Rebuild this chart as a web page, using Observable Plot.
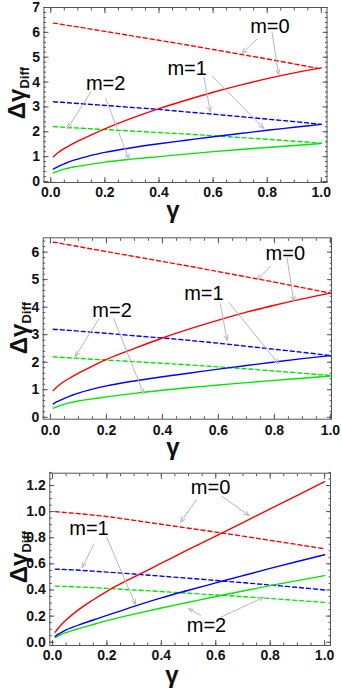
<!DOCTYPE html>
<html><head><meta charset="utf-8">
<script src="https://cdn.jsdelivr.net/npm/d3@7"></script>
<script src="https://cdn.jsdelivr.net/npm/@observablehq/plot@0.6"></script>
<style>
body{margin:0;background:#fff;width:342px;overflow:hidden}
svg{display:block}
</style></head><body>
<div id="chart"></div>
<script>
// ---- data ----
const gammaValues = [0.01, 0.02, 0.035, 0.05, 0.075, 0.1, 0.15, 0.2, 0.3, 0.4, 0.5, 0.6, 0.7, 0.8, 0.9, 1.0];

// panel 1
const p1RedSolid   = [1.0, 1.1, 1.22, 1.33, 1.48, 1.62, 1.88, 2.12, 2.55, 2.93, 3.27, 3.59, 3.88, 4.14, 4.37, 4.57];
const p1RedDash    = [6.37, 6.36, 6.33, 6.3, 6.26, 6.22, 6.13, 6.04, 5.86, 5.68, 5.5, 5.31, 5.12, 4.93, 4.73, 4.53];
const p1BlueSolid  = [0.5, 0.56, 0.64, 0.71, 0.82, 0.9, 1.05, 1.17, 1.36, 1.52, 1.66, 1.8, 1.93, 2.06, 2.18, 2.3];
const p1BlueDash   = [3.21, 3.2, 3.19, 3.18, 3.16, 3.14, 3.1, 3.06, 2.98, 2.9, 2.8, 2.71, 2.61, 2.51, 2.41, 2.3];
const p1GreenSolid = [0.35, 0.39, 0.45, 0.5, 0.56, 0.61, 0.7, 0.78, 0.9, 1.0, 1.1, 1.2, 1.29, 1.37, 1.45, 1.53];
const p1GreenDash  = [2.21, 2.2, 2.19, 2.18, 2.165, 2.15, 2.12, 2.09, 2.03, 1.97, 1.91, 1.84, 1.77, 1.7, 1.62, 1.54];
const p1Labels = [{text: "m=0", x: 0.81, y: 6.23}, {text: "m=1", x: 0.504, y: 4.54}, {text: "m=2", x: 0.203, y: 3.94}];
const p1Arrows = [[0.763, 5.74, 0.707, 5.16], [0.818, 6.0, 0.842, 4.31], [0.566, 4.2, 0.59, 2.8], [0.597, 4.23, 0.787, 2.14], [0.148, 3.6, 0.062, 2.14], [0.203, 3.34, 0.289, 0.9]];

// panel 2
const p2RedSolid   = [0.97, 1.07, 1.2, 1.31, 1.46, 1.6, 1.86, 2.1, 2.5, 2.88, 3.22, 3.53, 3.82, 4.07, 4.3, 4.51];
const p2RedDash    = [6.36, 6.35, 6.32, 6.29, 6.25, 6.2, 6.11, 6.02, 5.84, 5.66, 5.48, 5.29, 5.1, 4.91, 4.71, 4.51];
const p2BlueSolid  = [0.49, 0.55, 0.62, 0.69, 0.79, 0.88, 1.02, 1.14, 1.32, 1.47, 1.61, 1.75, 1.88, 2.01, 2.13, 2.24];
const p2BlueDash   = [3.2, 3.19, 3.18, 3.17, 3.15, 3.13, 3.09, 3.05, 2.96, 2.88, 2.79, 2.69, 2.58, 2.47, 2.36, 2.24];
const p2GreenSolid = [0.33, 0.37, 0.43, 0.48, 0.54, 0.59, 0.67, 0.74, 0.87, 0.98, 1.08, 1.17, 1.26, 1.34, 1.42, 1.5];
const p2GreenDash  = [2.2, 2.19, 2.18, 2.17, 2.155, 2.14, 2.11, 2.08, 2.02, 1.96, 1.9, 1.83, 1.76, 1.68, 1.6, 1.52];
const p2Labels = [{text: "m=0", x: 0.839, y: 5.94}, {text: "m=1", x: 0.548, y: 4.49}, {text: "m=2", x: 0.22, y: 3.88}];
const p2Arrows = [[0.786, 5.48, 0.738, 5.0], [0.845, 5.8, 0.869, 4.22], [0.607, 4.12, 0.631, 2.79], [0.637, 4.18, 0.815, 1.94], [0.173, 3.58, 0.089, 2.21], [0.226, 3.58, 0.333, 0.85]];

// panel 3
const p3RedSolid   = [0.077, 0.105, 0.14, 0.17, 0.215, 0.255, 0.325, 0.39, 0.5, 0.605, 0.71, 0.812, 0.916, 1.02, 1.125, 1.23];
const p3RedDash    = [1.0, 0.998, 0.995, 0.992, 0.988, 0.984, 0.973, 0.962, 0.933, 0.903, 0.873, 0.843, 0.812, 0.78, 0.748, 0.715];
const p3BlueSolid  = [0.045, 0.06, 0.078, 0.094, 0.115, 0.135, 0.17, 0.205, 0.275, 0.34, 0.398, 0.454, 0.51, 0.565, 0.618, 0.67];
const p3BlueDash   = [0.56, 0.559, 0.558, 0.556, 0.554, 0.551, 0.544, 0.537, 0.522, 0.506, 0.49, 0.473, 0.456, 0.438, 0.42, 0.4];
const p3GreenSolid = [0.035, 0.047, 0.062, 0.074, 0.091, 0.106, 0.136, 0.165, 0.215, 0.262, 0.306, 0.35, 0.392, 0.433, 0.472, 0.51];
const p3GreenDash  = [0.43, 0.429, 0.428, 0.427, 0.425, 0.423, 0.418, 0.412, 0.4, 0.388, 0.375, 0.362, 0.349, 0.335, 0.32, 0.305];
const p3Labels = [{text: "m=0", x: 0.581, y: 1.187}, {text: "m=1", x: 0.134, y: 0.868}, {text: "m=2", x: 0.566, y: 0.128}];
const p3Arrows = [[0.529, 1.09, 0.471, 0.919], [0.624, 1.116, 0.722, 0.97], [0.152, 0.753, 0.109, 0.57], [0.199, 0.804, 0.305, 0.289], [0.544, 0.204, 0.501, 0.256], [0.618, 0.191, 0.777, 0.345]];

// ticks
const xMajor = [0, 0.2, 0.4, 0.6, 0.8, 1.0];
const xMinor = d3.range(0, 21).map(i => i * 0.05);
const yMajorA = [0, 1, 2, 3, 4, 5, 6, 7];
const yMinorA = d3.range(0, 36).map(i => i * 0.2);
const yMajorC = [0, 0.2, 0.4, 0.6, 0.8, 1.0, 1.2];
const yMinorC = d3.range(0, 27).map(i => i * 0.05);

const colors = {red: "#ff0000", blue: "#0000ff", green: "#00e600"};
const FONT = "'Liberation Sans', Arial, sans-serif";
const FRAME = "#555";

function makePanel(p) {
  const series = [
    {v: p.redDash, c: colors.red, d: true}, {v: p.blueDash, c: colors.blue, d: true}, {v: p.greenDash, c: colors.green, d: true},
    {v: p.greenSolid, c: colors.green, d: false}, {v: p.blueSolid, c: colors.blue, d: false}, {v: p.redSolid, c: colors.red, d: false}
  ];
  const marks = [];
  for (const s of series) {
    const rows = s.v.map((y, i) => ({x: gammaValues[i], y}));
    marks.push(Plot.line(rows, {x: "x", y: "y", stroke: s.c, strokeWidth: 1.4, curve: "monotone-x",
      strokeDasharray: s.d ? "4,3" : null}));
  }
  const arrows = p.arrows.map(a => ({x1: a[0], y1: a[1], x2: a[2], y2: a[3]}));
  marks.push(Plot.arrow(arrows, {x1: "x1", y1: "y1", x2: "x2", y2: "y2", stroke: "#b8b8b8", strokeWidth: 1, headLength: 8, headAngle: 45}));
  marks.push(Plot.text(p.labels, {x: "x", y: "y", text: "text", fontSize: 20, fontFamily: FONT, fill: "#000"}));
  marks.push(Plot.frame({stroke: FRAME, strokeWidth: 1}));
  for (const anchor of ["bottom", "top"]) {
    marks.push(Plot.axisX({anchor, ticks: xMinor, tickSize: -2.5, tickFormat: () => "", stroke: FRAME, label: null}));
    marks.push(Plot.axisX({anchor, ticks: xMajor, tickSize: -5, tickFormat: () => "", stroke: FRAME, label: null}));
  }
  for (const anchor of ["left", "right"]) {
    marks.push(Plot.axisY({anchor, ticks: p.yMinor, tickSize: -2.5, tickFormat: () => "", stroke: FRAME, label: null}));
    marks.push(Plot.axisY({anchor, ticks: p.yMajor, tickSize: -5, tickFormat: () => "", stroke: FRAME, label: null}));
  }
  marks.push(Plot.axisX({anchor: "bottom", ticks: xMajor, tickSize: 0, tickPadding: p.xPad, tickFormat: d3.format(".1f"),
    fontSize: 14, fontWeight: "bold", fontFamily: FONT, fill: "#111", label: null}));
  marks.push(Plot.axisY({anchor: "left", ticks: p.yMajor, tickSize: 0, tickPadding: 4, tickFormat: p.yFormat,
    fontSize: 14, fontWeight: "bold", fontFamily: FONT, fill: "#111", label: null}));

  const svg = Plot.plot({
    width: 342, height: p.height,
    marginTop: p.mt, marginBottom: p.mb, marginLeft: p.ml, marginRight: p.mr,
    x: {domain: p.xDomain}, y: {domain: p.yDomain},
    style: {fontFamily: FONT, background: "#fff", overflow: "visible"},
    marks
  });
  const s = d3.select(svg);
  const yl = s.append("text")
    .attr("transform", `translate(${p.yTitle[0]},${p.yTitle[1]}) rotate(-90)`)
    .attr("text-anchor", "middle").attr("font-family", FONT).attr("font-weight", "bold")
    .attr("font-size", 24).attr("fill", "#111");
  yl.append("tspan").text("Δγ");
  yl.append("tspan").attr("font-size", 13).attr("dy", 4).text("Diff");
  s.append("text").attr("x", p.xTitle[0]).attr("y", p.xTitle[1]).attr("text-anchor", "middle")
    .attr("font-family", FONT).attr("font-weight", "bold").attr("font-size", 24).attr("fill", "#111").text("γ");
  return svg;
}

const root = document.getElementById("chart");
root.appendChild(makePanel({
  height: 230, mt: 7, mb: 48, ml: 43.5, mr: 15.5, xDomain: [-0.025, 1.021], yDomain: [-0.04, 7.0],
  yMajor: yMajorA, yMinor: yMinorA, yFormat: d3.format("d"), xPad: 4.5,
  yTitle: [25, 93], xTitle: [173, 217.5],
  redSolid: p1RedSolid, redDash: p1RedDash, blueSolid: p1BlueSolid, blueDash: p1BlueDash,
  greenSolid: p1GreenSolid, greenDash: p1GreenDash, labels: p1Labels, arrows: p1Arrows
}));
root.appendChild(makePanel({
  height: 230, mt: 7.3, mb: 41.3, ml: 42.7, mr: 11, xDomain: [-0.026, 1.004], yDomain: [-0.07, 6.52],
  yMajor: [0, 1, 2, 3, 4, 5, 6], yMinor: yMinorA.filter(v => v <= 6.5), yFormat: d3.format("d"), xPad: 6,
  yTitle: [27, 98], xTitle: [173, 225],
  redSolid: p2RedSolid, redDash: p2RedDash, blueSolid: p2BlueSolid, blueDash: p2BlueDash,
  greenSolid: p2GreenSolid, greenDash: p2GreenDash, labels: p2Labels, arrows: p2Arrows
}));
root.appendChild(makePanel({
  height: 237, mt: 12.7, mb: 52, ml: 49.3, mr: 12, xDomain: [-0.0099, 1.0217], yDomain: [-0.025, 1.294],
  yMajor: yMajorC, yMinor: yMinorC, yFormat: d3.format(".1f"), xPad: 5,
  yTitle: [27, 97], xTitle: [172, 223],
  redSolid: p3RedSolid, redDash: p3RedDash, blueSolid: p3BlueSolid, blueDash: p3BlueDash,
  greenSolid: p3GreenSolid, greenDash: p3GreenDash, labels: p3Labels, arrows: p3Arrows
}));
</script>
</body></html>
